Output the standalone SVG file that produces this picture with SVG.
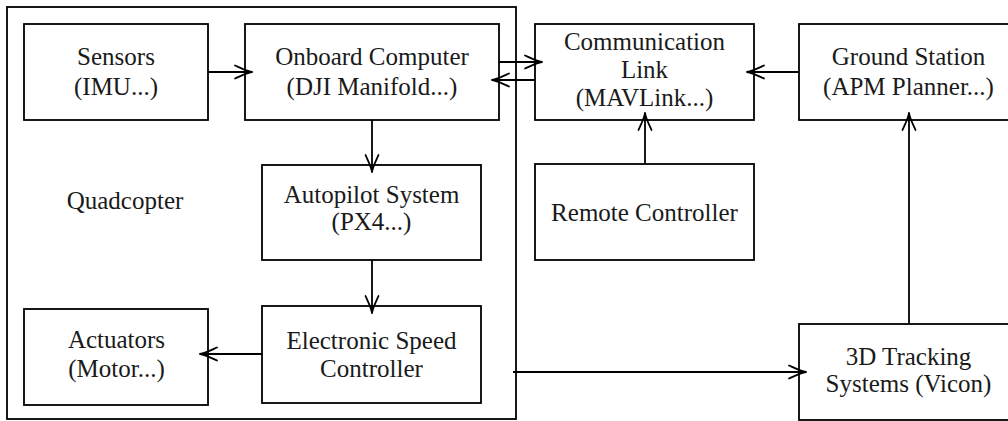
<svg xmlns="http://www.w3.org/2000/svg" width="1008" height="421" viewBox="0 0 1008 421">
<style>
.box{fill:#fff;stroke:#000;stroke-width:1.8}
.frame{fill:none;stroke:#000;stroke-width:1.8}
.t{font-family:'Liberation Serif','DejaVu Serif',serif;font-size:25px;fill:#1a1a1a;text-anchor:middle}
.c{fill:none;stroke:#000;stroke-width:1.8}
</style>
<defs>
<marker id="arr" viewBox="-19 -8 21 16" refX="0" refY="0" markerWidth="21" markerHeight="16" markerUnits="userSpaceOnUse" orient="auto">
<path d="M-17,-6.5 C-11,-3.8 -5,-0.7 0,0 M-17,6.5 C-11,3.8 -5,0.7 0,0" fill="none" stroke="#000" stroke-width="1.8" stroke-linecap="round"/>
</marker>
</defs>
<rect width="1008" height="421" fill="#fff"/>
<g id="quadcopter">
<rect class="frame" x="7" y="7" width="509" height="412"/>
<text class="t" x="125" y="209" font-family="Liberation Serif, DejaVu Serif, serif">Quadcopter</text>
</g>
<g id="sensors">
<rect class="box" x="24" y="24" width="184" height="96"/>
<text class="t" x="116" y="65">Sensors</text>
<text class="t" x="116" y="95">(IMU...)</text>
</g>
<g id="onboard">
<rect class="box" x="245" y="24" width="254" height="96"/>
<text class="t" x="372" y="65">Onboard Computer</text>
<text class="t" x="372" y="95">(DJI Manifold...)</text>
</g>
<g id="comm">
<rect class="box" x="535" y="24" width="219" height="96"/>
<text class="t" x="644.5" y="50">Communication</text>
<text class="t" x="644.5" y="78">Link</text>
<text class="t" x="644.5" y="106">(MAVLink...)</text>
</g>
<g id="ground">
<rect class="box" x="799" y="24" width="219" height="96"/>
<text class="t" x="908.5" y="65">Ground Station</text>
<text class="t" x="908.5" y="95">(APM Planner...)</text>
</g>
<g id="autopilot">
<rect class="box" x="262" y="165" width="219" height="95"/>
<text class="t" x="371.5" y="203">Autopilot System</text>
<text class="t" x="371.5" y="230">(PX4...)</text>
</g>
<g id="remote">
<rect class="box" x="535" y="164" width="219" height="96"/>
<text class="t" x="644.5" y="221">Remote Controller</text>
</g>
<g id="esc">
<rect class="box" x="262" y="306" width="219" height="97"/>
<text class="t" x="371.5" y="349">Electronic Speed</text>
<text class="t" x="371.5" y="377">Controller</text>
</g>
<g id="actuators">
<rect class="box" x="24" y="309" width="184" height="96"/>
<text class="t" x="116.5" y="348">Actuators</text>
<text class="t" x="116.5" y="377">(Motor...)</text>
</g>
<g id="tracking">
<rect class="box" x="799" y="324" width="219" height="96"/>
<text class="t" x="908.5" y="365">3D Tracking</text>
<text class="t" x="908.5" y="392">Systems (Vicon)</text>
</g>
<g id="connectors">
<line class="c" x1="208" y1="72" x2="252" y2="72" marker-end="url(#arr)"/>
<line class="c" x1="499" y1="62" x2="542" y2="62" marker-end="url(#arr)"/>
<line class="c" x1="535" y1="80" x2="492" y2="80" marker-end="url(#arr)"/>
<line class="c" x1="799" y1="72" x2="747" y2="72" marker-end="url(#arr)"/>
<line class="c" x1="645" y1="164" x2="645" y2="113" marker-end="url(#arr)"/>
<line class="c" x1="909" y1="324" x2="909" y2="113" marker-end="url(#arr)"/>
<line class="c" x1="372" y1="120" x2="372" y2="172" marker-end="url(#arr)"/>
<line class="c" x1="372" y1="260" x2="372" y2="313" marker-end="url(#arr)"/>
<line class="c" x1="262" y1="354" x2="200" y2="354" marker-end="url(#arr)"/>
<line class="c" x1="513" y1="372" x2="806" y2="372" marker-end="url(#arr)"/>
</g>
</svg>
